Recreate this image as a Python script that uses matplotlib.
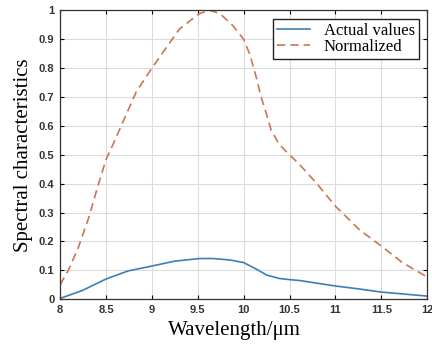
import matplotlib
matplotlib.use("Agg")
import matplotlib.pyplot as plt

wavelength_n = [8.0, 8.09, 8.2, 8.31, 8.42, 8.5, 8.6, 8.71, 8.83, 9.0, 9.2, 9.3, 9.4, 9.52, 9.63,
                9.74, 9.88, 10.0, 10.07, 10.14, 10.19, 10.25, 10.30, 10.39, 10.5, 10.61, 10.79, 11.0,
                11.26, 11.5, 11.73, 12.0]
normalized = [0.05, 0.10, 0.18, 0.28, 0.40, 0.483, 0.552, 0.632, 0.718, 0.80, 0.89, 0.935, 0.96, 0.989, 1.0,
              0.989, 0.948, 0.90, 0.845, 0.765, 0.70, 0.64, 0.585, 0.535, 0.50, 0.466, 0.403, 0.322,
              0.241, 0.184, 0.127, 0.077]

wavelength_a = [8.0, 8.24, 8.5, 8.74, 9.0, 9.25, 9.52, 9.67, 9.85, 10.0, 10.14, 10.25, 10.39,
                10.5, 10.61, 10.75, 11.0, 11.25, 11.5, 11.75, 12.0]
actual = [0.003, 0.03, 0.07, 0.098, 0.115, 0.132, 0.141, 0.141, 0.136, 0.127, 0.104, 0.084, 0.072,
          0.068, 0.065, 0.058, 0.046, 0.036, 0.025, 0.018, 0.011]

xticks = [8, 8.5, 9, 9.5, 10, 10.5, 11, 11.5, 12]
xticklabels = ["8", "8.5", "9", "9.5", "10", "10.5", "11", "11.5", "12"]
yticks = [0, 0.1, 0.2, 0.3, 0.4, 0.5, 0.6, 0.7, 0.8, 0.9, 1]
yticklabels = ["0", "0.1", "0.2", "0.3", "0.4", "0.5", "0.6", "0.7", "0.8", "0.9", "1"]

fig = plt.figure(figsize=(4.32, 3.44), dpi=100)
ax = fig.add_axes([0.139, 0.130, 0.850, 0.840])

ax.plot(wavelength_a, actual, color="#3a7fb8", lw=1.2, label="Actual values")
ax.plot(wavelength_n, normalized, color="#cd7550", lw=1.2, ls=(0, (5, 3)), label="Normalized")

ax.set_xlim(8, 12)
ax.set_ylim(0, 1)
ax.set_xticks(xticks)
ax.set_xticklabels(xticklabels)
ax.set_yticks(yticks)
ax.set_yticklabels(yticklabels)
ax.grid(True, color="#dcdcdc", lw=0.8)
ax.set_axisbelow(True)
ax.tick_params(direction="in", top=True, right=True, length=3, width=0.8,
               labelsize=8, labelcolor="#333333", pad=4)
for lab in ax.get_xticklabels() + ax.get_yticklabels():
    lab.set_fontweight("bold")
    lab.set_family("Liberation Sans")
for s in ax.spines.values():
    s.set_color("#333333")
    s.set_linewidth(0.9)

ax.set_xlabel("Wavelength/μm", family="Liberation Serif", fontsize=15, labelpad=1)
ax.xaxis.set_label_coords(0.475, -0.075)
ax.set_ylabel("Spectral characteristics", family="Liberation Serif", fontsize=15, labelpad=4)

leg = ax.legend(loc="upper right", prop={"family": "Liberation Serif", "size": 12},
                fancybox=False, framealpha=1, edgecolor="#222222", borderpad=0.25,
                labelspacing=0.0, handlelength=2.0, borderaxespad=0.5)
leg.get_frame().set_linewidth(1.0)

fig.savefig("out.png", dpi=100)
